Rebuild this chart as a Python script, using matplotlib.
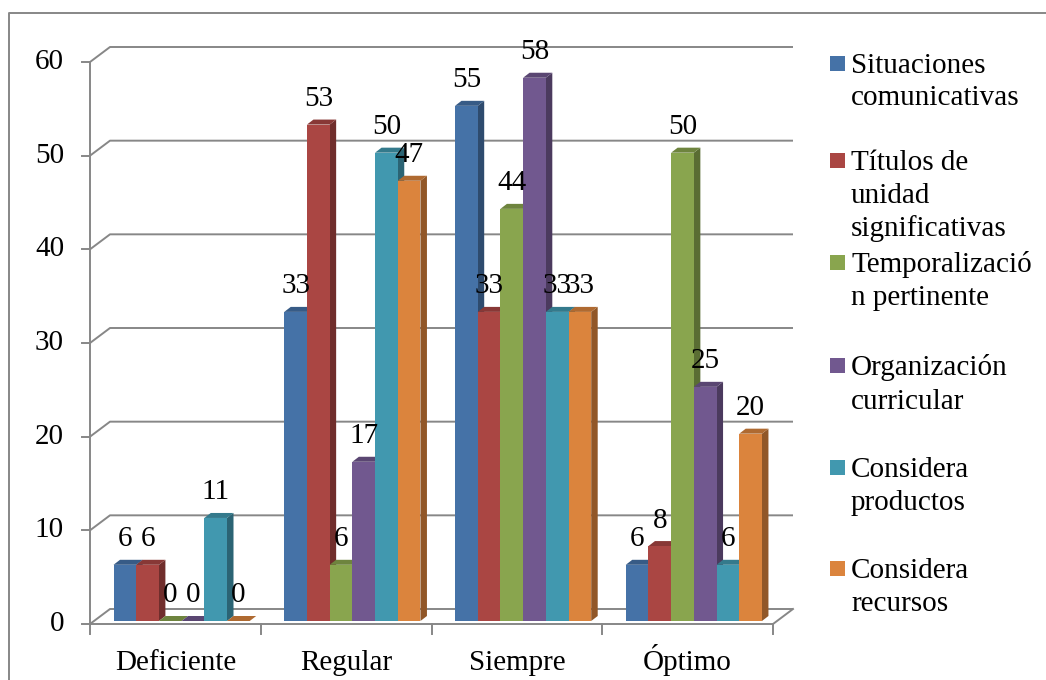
import matplotlib
matplotlib.use('Agg')
import matplotlib.pyplot as plt
from matplotlib.patches import Polygon, Rectangle
from matplotlib.lines import Line2D
from matplotlib.colors import to_rgb

plt.rcParams['font.family'] = ['Liberation Serif', 'DejaVu Serif']

categories = ['Deficiente', 'Regular', 'Siempre', 'Óptimo']
legend_lines = [
    ['Situaciones', 'comunicativas'],
    ['Títulos de', 'unidad', 'significativas'],
    ['Temporalizació', 'n pertinente'],
    ['Organización', 'curricular'],
    ['Considera', 'productos'],
    ['Considera', 'recursos'],
]
situaciones = [6, 33, 55, 6]
titulos = [6, 53, 33, 8]
temporalizacion = [0, 6, 44, 50]
organizacion = [0, 17, 58, 25]
productos = [11, 50, 33, 6]
recursos = [0, 47, 33, 20]
series = [situaciones, titulos, temporalizacion, organizacion, productos, recursos]
colors = ['#4572A7', '#AA4643', '#89A54E', '#71588F', '#4198AF', '#DB843D']
y_ticks = [0, 10, 20, 30, 40, 50, 60]

W, H = 1046, 680
fig = plt.figure(figsize=(W / 100, H / 100), dpi=100)

# front plane of the 3-D plot area (pixels from top-left)
X0, X1, Y0, Y1 = 90, 773, 624, 62
ax = fig.add_axes([X0 / W, 1 - Y0 / H, (X1 - X0) / W, (Y0 - Y1) / H])
ax.set_xlim(0, 4)
ax.set_ylim(0, 60)
ax.axis('off')

sx = 4 / (X1 - X0)   # data units per pixel
sy = 60 / (Y0 - Y1)
FS = 21
grid_c = '#878787'

# back wall depth
wdx, wdy = 20 * sx, 15 * sy
for v in y_ticks:
    ax.plot([0, wdx, 4 + wdx], [v, v + wdy, v + wdy], color=grid_c, lw=1.4,
            clip_on=False, zorder=1, solid_capstyle='butt')
    ax.plot([-8 * sx, 0], [v, v], color=grid_c, lw=1.4, clip_on=False, zorder=1)
    ax.text(-26 * sx, v, str(v), ha='right', va='center', fontsize=FS)

# front axis line, floor edge and category ticks
ax.plot([0, 0], [0, 60], color=grid_c, lw=1.4, clip_on=False, zorder=1)
ax.plot([0, 4, 4 + wdx], [0, 0, wdy], color=grid_c, lw=1.4, clip_on=False, zorder=1)
for c in range(5):
    ax.plot([c, c], [0, -10 * sy], color=grid_c, lw=1.4, clip_on=False, zorder=1)
for c, name in enumerate(categories):
    ax.text(c + 0.5, -46 * sy, name, ha='center', va='baseline', fontsize=FS)


def shade(col, f):
    r, g, b = to_rgb(col)
    return (r * f, g * f, b * f)


# columns: front face, right side, top
bw = 22.7 * sx
bdx, bdy = 6.5 * sx, 5 * sy
base = 3 * sy
start = 23.5 * sx
z = 2
for c in range(4):
    for i, vals in enumerate(series):
        v = vals[c]
        l = c + start + i * bw
        r = l + bw
        top = base + v
        ax.add_patch(Polygon([(r, base), (r + bdx, base + bdy), (r + bdx, top + bdy), (r, top)],
                             closed=True, fc=shade(colors[i], 0.66), ec='none', zorder=z,
                             clip_on=False))
        ax.add_patch(Polygon([(l, top), (l + bdx, top + bdy), (r + bdx, top + bdy), (r, top)],
                             closed=True, fc=shade(colors[i], 0.8), ec='none', zorder=z,
                             clip_on=False))
        ax.bar(l, v, width=bw, bottom=base, align='edge', color=colors[i],
               zorder=z + 0.5, clip_on=False)
        z += 1
        ax.text(l + bw / 2, top + 18.5 * sy, str(v), ha='center', va='baseline',
                fontsize=FS, zorder=200)

# legend
baselines = [[73, 105], [170, 203, 236], [272, 305], [375, 409], [477, 510], [578, 611]]
for i, lines in enumerate(legend_lines):
    b0 = baselines[i][0]
    fig.patches.append(Rectangle((830 / W, 1 - (b0 - 2) / H), 15 / W, 15 / H,
                                 transform=fig.transFigure, fc=colors[i], ec='none'))
    for txt, b in zip(lines, baselines[i]):
        fig.text(851 / W, 1 - b / H, txt, ha='left', va='baseline', fontsize=FS)

# outer chart frame
fig.add_artist(Line2D([9 / W, 9 / W, 1], [0, 1 - 13 / H, 1 - 13 / H],
                      transform=fig.transFigure, color=grid_c, lw=1.4))

fig.savefig('out.png', dpi=100)
